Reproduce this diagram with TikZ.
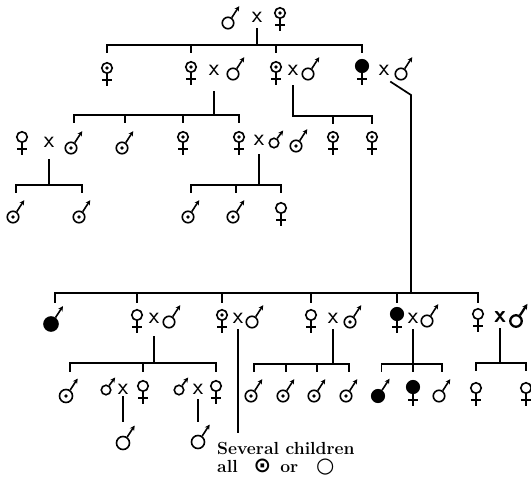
\documentclass[tikz,border=0pt]{standalone}
\usepackage{fontspec}
\usetikzlibrary{arrows.meta}
\newfontfamily\symfont{DejaVu Sans}

\tikzset{
  kin/.style={line width=1.7pt, line cap=rect},
  symline/.style={draw, line width=1.6pt},
  ring/.style={circle, draw, line width=1.6pt, inner sep=0pt},
  spot/.style={path picture={\fill (path picture bounding box.center) circle (1.9pt);}},
  affected/.style={fill=black, minimum size=12.5pt},
  fem/.style={ring, minimum size=10.5pt, append after command={
      (\tikzlastnode.south) edge[symline] ([yshift=-12pt]\tikzlastnode.south)
      ([xshift=-5pt,yshift=-6pt]\tikzlastnode.south) edge[symline]
      ([xshift=5pt,yshift=-6pt]\tikzlastnode.south)}},
  mal/.style={ring, minimum size=11.5pt, append after command={
      (\tikzlastnode.55) edge[symline, -{Stealth[length=5pt,width=5pt]}]
      ([shift={(#1)}]\tikzlastnode.55)}},
  mal/.default={7.5pt,11.5pt},
  malheavy/.style={ring, line width=2.3pt, minimum size=11.5pt, append after command={
      (\tikzlastnode.55) edge[symline, line width=2.3pt, -{Stealth[length=5.5pt,width=5.5pt]}]
      ([shift={(7.5pt,11.5pt)}]\tikzlastnode.55)}},
  mate/.style={font=\fontsize{24}{24}\selectfont\sffamily, inner sep=0pt},
  remark/.style={font=\fontsize{17.5}{18.5}\selectfont\bfseries, align=left, inner sep=0pt}
}

\begin{document}
\begin{tikzpicture}[x=1pt, y=-1pt]
\useasboundingbox (0,0) rectangle (531,482);
\clip (0,0) rectangle (531,482);

% generation I
\node[mal] (m0) at (228,23) {};
\node[mate] (x0) at (257,17) {x};
\node[fem,spot] (f0) at (280,13) {};

% generation II
\node[fem,spot] (f1) at (107,68) {};
\node[fem,spot] (f2) at (191,67) {};
\node[mate] (x2) at (214,70) {x};
\node[mal] (m2) at (233,74) {};
\node[fem,spot] (f3) at (276,67) {};
\node[mate] (x3) at (293,70) {x};
\node[mal] (m3) at (308,74) {};
\node[fem,affected] (f4) at (362,66) {};
\node[mate] (x4) at (384,70) {x};
\node[mal] (m4) at (401,74) {};

% generation III
\node[fem] (f5) at (22,137) {};
\node[mate] (x5) at (49,142) {x};
\node[mal,spot] (m5) at (71,148) {};
\node[mal,spot] (m6) at (122,148) {};
\node[fem,spot] (f7) at (183,137) {};
\node[fem,spot] (f8) at (239,137) {};
\node[mate] (x8) at (259,140) {x};
\node[mal={6pt,8pt}, minimum size=9.5pt] (m8) at (274,143) {};
\node[mal,spot] (m9) at (296,146) {};
\node[fem,spot] (f10) at (333,137) {};
\node[fem,spot] (f11) at (372,137) {};

\node[mal,spot] (m12) at (13,217) {};
\node[mal,spot] (m13) at (79,217) {};
\node[mal,spot] (m14) at (188,217) {};
\node[mal,spot] (m15) at (233,217) {};
\node[fem] (f16) at (281,208) {};

% children of the affected daughter
\node[mal,affected, minimum size=14pt] (m17) at (51,324) {};
\node[fem] (f18) at (137,315) {};
\node[mate] (x18) at (154,318) {x};
\node[mal] (m18) at (169,322) {};
\node[fem,spot] (f19) at (222,315) {};
\node[mate] (x19) at (238,318) {x};
\node[mal] (m19) at (252,322) {};
\node[fem] (f20) at (311,315) {};
\node[mate] (x20) at (333,318) {x};
\node[mal,spot] (m20) at (350,322) {};
\node[fem,affected] (f21) at (397,314) {};
\node[mate] (x21) at (413,318) {x};
\node[mal] (m21) at (427,321) {};
\node[fem] (f22) at (478,314) {};
\node[mate, font=\fontsize{24}{24}\selectfont\sffamily\bfseries] (x22) at (500,317) {x};
\node[malheavy] (m22) at (516,321) {};

% generation V
\node[mal,spot, minimum size=13pt] (m23) at (66,396) {};
\node[mal={6pt,8pt}, minimum size=9.5pt] (m24) at (106,390) {};
\node[mate] (x24) at (123,389) {x};
\node[fem] (f24) at (143,386) {};
\node[mal={6pt,8pt}, minimum size=9.5pt] (m25) at (179,390) {};
\node[mate] (x25) at (198,389) {x};
\node[fem] (f25) at (216,386) {};
\node[mal, minimum size=13pt] (m26) at (123,443) {};
\node[mal, minimum size=13pt] (m27) at (198,442) {};
\node[mal,spot] (m28) at (251,396) {};
\node[mal,spot] (m29) at (283,396) {};
\node[mal,spot] (m30) at (314,396) {};
\node[mal,spot] (m31) at (346,396) {};
\node[mal,affected] (m32) at (378,396) {};
\node[fem,affected] (f33) at (413,387) {};
\node[mal] (m34) at (439,396) {};
\node[fem] (f35) at (476,388) {};
\node[fem] (f36) at (526,388) {};

\node[remark, anchor=north west] (note) at (217,442)
  {Several children\\all\hspace{16pt}{\symfont\fontsize{21}{18}\selectfont ⊙}\hspace{9pt}or\hspace{18pt}{\symfont\fontsize{21}{18}\selectfont ○}};

% lines of descent
\coordinate (bar0) at (0,45);
\draw[kin] ([yshift=-6pt]x0.south) -- (x0 |- bar0);
\draw[kin] (f1.north |- bar0) -- (f4.north |- bar0);
\foreach \c in {f1,f2,f3,f4} \draw[kin] (\c.north |- bar0) -- ++(0,7);

\coordinate (bar2) at (0,115);
\draw[kin] ([yshift=-16pt]x2.south) -- (x2 |- bar2);
\draw[kin] (m5.60 |- bar2) -- (f8.north |- bar2);
\foreach \c/\a in {m5/60,m6/60,f7/north,f8/north} \draw[kin] (\c.\a |- bar2) -- ++(0,7);

\coordinate (bar3) at (0,116);
\draw[kin] ([yshift=-10pt]x3.south) -- (x3 |- bar3) -- (f11.north |- bar3);
\foreach \c in {f10,f11} \draw[kin] (\c.north |- bar3) -- ++(0,7);

\coordinate (bar5) at (0,185);
\draw[kin] ([yshift=-12pt]x5.south) -- (x5 |- bar5);
\draw[kin] (m12.60 |- bar5) -- (m13.60 |- bar5);
\foreach \c in {m12,m13} \draw[kin] (\c.60 |- bar5) -- ++(0,7);

\coordinate (bar8) at (0,185);
\draw[kin] ([yshift=-9pt]x8.south) -- (x8 |- bar8);
\draw[kin] (m14.60 |- bar8) -- (f16.north |- bar8);
\foreach \c/\a in {m14/60,m15/60,f16/north} \draw[kin] (\c.\a |- bar8) -- ++(0,7);

\coordinate (turn) at (411,95);
\coordinate (bar4) at (0,293);
\draw[kin] ([shift={(-10pt,-8pt)}]m4.center) -- (turn) -- (turn |- bar4);
\draw[kin] (m17.60 |- bar4) -- (f22.north |- bar4);
\foreach \c/\a in {m17/60,f18/north,f19/north,f20/north,f21/north,f22/north}
  \draw[kin] (\c.\a |- bar4) -- ++(0,9);

\coordinate (bar18) at (0,363);
\draw[kin] ([yshift=-13pt]x18.south) -- (x18 |- bar18);
\draw[kin] (m23.60 |- bar18) -- (f25.north |- bar18);
\foreach \c/\a in {m23/60,f24/north,f25/north} \draw[kin] (\c.\a |- bar18) -- ++(0,8);

\draw[kin] ([yshift=-6pt]x19.south) -- ([yshift=10pt]x19 |- note.north);

\coordinate (bar20) at (0,364);
\draw[kin] ([yshift=-6pt]x20.south) -- (x20 |- bar20);
\draw[kin] (m28.60 |- bar20) -- (m31.60 |- bar20);
\foreach \c in {m28,m29,m30,m31} \draw[kin] (\c.60 |- bar20) -- ++(0,7);

\coordinate (bar21) at (0,364);
\draw[kin] ([yshift=-6pt]x21.south) -- (x21 |- bar21);
\draw[kin] (m32.60 |- bar21) -- (m34.60 |- bar21);
\foreach \c/\a in {m32/60,f33/north,m34/60} \draw[kin] (\c.\a |- bar21) -- ++(0,7);

\coordinate (bar22) at (0,363);
\draw[kin] ([yshift=-6pt]x22.south) -- (x22 |- bar22);
\draw[kin] (f35.north |- bar22) -- (f36.north |- bar22);
\foreach \c in {f35,f36} \draw[kin] (\c.north |- bar22) -- ++(0,7);

\draw[kin] ([yshift=-2pt]x24.south) -- ([yshift=15pt]m26.north);
\draw[kin] ([yshift=-5pt]x25.south) -- ([yshift=14pt]m27.north);
\end{tikzpicture}
\end{document}
